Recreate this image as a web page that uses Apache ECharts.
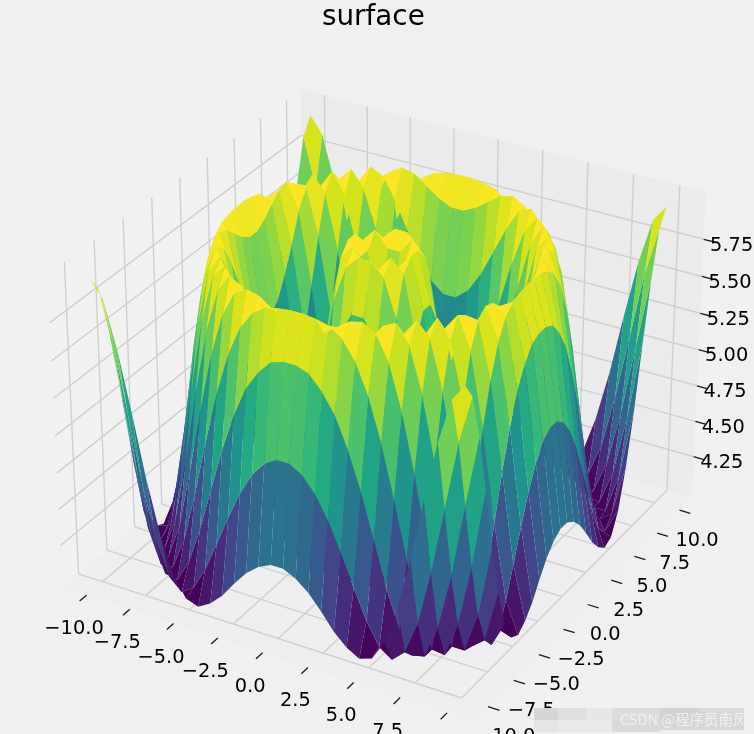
<!DOCTYPE html>
<html><head><meta charset="utf-8">
<style>html,body{margin:0;padding:0;background:#f0f0f0}#c{width:754px;height:734px}</style>
<script src="https://cdn.jsdelivr.net/npm/echarts@6/dist/echarts.min.js"></script>
</head><body><div id="c"></div>
<script>
const titleText = 'surface';
const gridCoords = [-10,-9.31,-8.62,-7.93,-7.24,-6.55,-5.86,-5.17,-4.48,-3.79,-3.10,-2.41,-1.72,-1.03,-0.34,0.34,1.03,1.72,2.41,3.10,3.79,4.48,5.17,5.86,6.55,7.24,7.93,8.62,9.31,10];
const zRows = [
[6.00,5.89,5.59,5.20,4.78,4.43,4.17,4.03,4.00,4.05,4.13,4.24,4.34,4.41,4.45,4.45,4.41,4.34,4.24,4.13,4.05,4.00,4.03,4.17,4.43,4.78,5.20,5.59,5.89,6.00],
[5.89,5.57,5.12,4.67,4.30,4.08,4.00,4.06,4.21,4.41,4.62,4.81,4.96,5.06,5.11,5.11,5.06,4.96,4.81,4.62,4.41,4.21,4.06,4.00,4.08,4.30,4.67,5.12,5.57,5.89],
[5.59,5.12,4.63,4.25,4.03,4.01,4.16,4.41,4.71,5.01,5.26,5.46,5.59,5.68,5.71,5.71,5.68,5.59,5.46,5.26,5.01,4.71,4.41,4.16,4.01,4.03,4.25,4.63,5.12,5.59],
[5.20,4.67,4.25,4.02,4.03,4.24,4.58,4.96,5.31,5.59,5.79,5.91,5.97,5.99,6.00,6.00,5.99,5.97,5.91,5.79,5.59,5.31,4.96,4.58,4.24,4.03,4.02,4.25,4.67,5.20],
[4.78,4.30,4.03,4.03,4.27,4.67,5.11,5.50,5.79,5.95,6.00,5.98,5.92,5.86,5.82,5.82,5.86,5.92,5.98,6.00,5.95,5.79,5.50,5.11,4.67,4.27,4.03,4.03,4.30,4.78],
[4.43,4.08,4.01,4.24,4.67,5.16,5.59,5.88,6.00,5.96,5.82,5.64,5.47,5.34,5.27,5.27,5.34,5.47,5.64,5.82,5.96,6.00,5.88,5.59,5.16,4.67,4.24,4.01,4.08,4.43],
[4.17,4.00,4.16,4.58,5.11,5.59,5.91,6.00,5.89,5.64,5.34,5.06,4.83,4.68,4.60,4.60,4.68,4.83,5.06,5.34,5.64,5.89,6.00,5.91,5.59,5.11,4.58,4.16,4.00,4.17],
[4.03,4.06,4.41,4.96,5.50,5.88,6.00,5.86,5.53,5.13,4.75,4.46,4.26,4.15,4.11,4.11,4.15,4.26,4.46,4.75,5.13,5.53,5.86,6.00,5.88,5.50,4.96,4.41,4.06,4.03],
[4.00,4.21,4.71,5.31,5.79,6.00,5.89,5.53,5.06,4.60,4.26,4.07,4.00,4.01,4.02,4.02,4.01,4.00,4.07,4.26,4.60,5.06,5.53,5.89,6.00,5.79,5.31,4.71,4.21,4.00],
[4.05,4.41,5.01,5.59,5.95,5.96,5.64,5.13,4.60,4.21,4.02,4.02,4.15,4.29,4.38,4.38,4.29,4.15,4.02,4.02,4.21,4.60,5.13,5.64,5.96,5.95,5.59,5.01,4.41,4.05],
[4.13,4.62,5.26,5.79,6.00,5.82,5.34,4.75,4.26,4.02,4.05,4.29,4.60,4.87,5.02,5.02,4.87,4.60,4.29,4.05,4.02,4.26,4.75,5.34,5.82,6.00,5.79,5.26,4.62,4.13],
[4.24,4.81,5.46,5.91,5.98,5.64,5.06,4.46,4.07,4.02,4.29,4.73,5.17,5.49,5.65,5.65,5.49,5.17,4.73,4.29,4.02,4.07,4.46,5.06,5.64,5.98,5.91,5.46,4.81,4.24],
[4.34,4.96,5.59,5.97,5.92,5.47,4.83,4.26,4.00,4.15,4.60,5.17,5.65,5.90,5.98,5.98,5.90,5.65,5.17,4.60,4.15,4.00,4.26,4.83,5.47,5.92,5.97,5.59,4.96,4.34],
[4.41,5.06,5.68,5.99,5.86,5.34,4.68,4.15,4.01,4.29,4.87,5.49,5.90,5.99,5.89,5.89,5.99,5.90,5.49,4.87,4.29,4.01,4.15,4.68,5.34,5.86,5.99,5.68,5.06,4.41],
[4.45,5.11,5.71,6.00,5.82,5.27,4.60,4.11,4.02,4.38,5.02,5.65,5.98,5.89,5.47,5.47,5.89,5.98,5.65,5.02,4.38,4.02,4.11,4.60,5.27,5.82,6.00,5.71,5.11,4.45],
[4.45,5.11,5.71,6.00,5.82,5.27,4.60,4.11,4.02,4.38,5.02,5.65,5.98,5.89,5.47,5.47,5.89,5.98,5.65,5.02,4.38,4.02,4.11,4.60,5.27,5.82,6.00,5.71,5.11,4.45],
[4.41,5.06,5.68,5.99,5.86,5.34,4.68,4.15,4.01,4.29,4.87,5.49,5.90,5.99,5.89,5.89,5.99,5.90,5.49,4.87,4.29,4.01,4.15,4.68,5.34,5.86,5.99,5.68,5.06,4.41],
[4.34,4.96,5.59,5.97,5.92,5.47,4.83,4.26,4.00,4.15,4.60,5.17,5.65,5.90,5.98,5.98,5.90,5.65,5.17,4.60,4.15,4.00,4.26,4.83,5.47,5.92,5.97,5.59,4.96,4.34],
[4.24,4.81,5.46,5.91,5.98,5.64,5.06,4.46,4.07,4.02,4.29,4.73,5.17,5.49,5.65,5.65,5.49,5.17,4.73,4.29,4.02,4.07,4.46,5.06,5.64,5.98,5.91,5.46,4.81,4.24],
[4.13,4.62,5.26,5.79,6.00,5.82,5.34,4.75,4.26,4.02,4.05,4.29,4.60,4.87,5.02,5.02,4.87,4.60,4.29,4.05,4.02,4.26,4.75,5.34,5.82,6.00,5.79,5.26,4.62,4.13],
[4.05,4.41,5.01,5.59,5.95,5.96,5.64,5.13,4.60,4.21,4.02,4.02,4.15,4.29,4.38,4.38,4.29,4.15,4.02,4.02,4.21,4.60,5.13,5.64,5.96,5.95,5.59,5.01,4.41,4.05],
[4.00,4.21,4.71,5.31,5.79,6.00,5.89,5.53,5.06,4.60,4.26,4.07,4.00,4.01,4.02,4.02,4.01,4.00,4.07,4.26,4.60,5.06,5.53,5.89,6.00,5.79,5.31,4.71,4.21,4.00],
[4.03,4.06,4.41,4.96,5.50,5.88,6.00,5.86,5.53,5.13,4.75,4.46,4.26,4.15,4.11,4.11,4.15,4.26,4.46,4.75,5.13,5.53,5.86,6.00,5.88,5.50,4.96,4.41,4.06,4.03],
[4.17,4.00,4.16,4.58,5.11,5.59,5.91,6.00,5.89,5.64,5.34,5.06,4.83,4.68,4.60,4.60,4.68,4.83,5.06,5.34,5.64,5.89,6.00,5.91,5.59,5.11,4.58,4.16,4.00,4.17],
[4.43,4.08,4.01,4.24,4.67,5.16,5.59,5.88,6.00,5.96,5.82,5.64,5.47,5.34,5.27,5.27,5.34,5.47,5.64,5.82,5.96,6.00,5.88,5.59,5.16,4.67,4.24,4.01,4.08,4.43],
[4.78,4.30,4.03,4.03,4.27,4.67,5.11,5.50,5.79,5.95,6.00,5.98,5.92,5.86,5.82,5.82,5.86,5.92,5.98,6.00,5.95,5.79,5.50,5.11,4.67,4.27,4.03,4.03,4.30,4.78],
[5.20,4.67,4.25,4.02,4.03,4.24,4.58,4.96,5.31,5.59,5.79,5.91,5.97,5.99,6.00,6.00,5.99,5.97,5.91,5.79,5.59,5.31,4.96,4.58,4.24,4.03,4.02,4.25,4.67,5.20],
[5.59,5.12,4.63,4.25,4.03,4.01,4.16,4.41,4.71,5.01,5.26,5.46,5.59,5.68,5.71,5.71,5.68,5.59,5.46,5.26,5.01,4.71,4.41,4.16,4.01,4.03,4.25,4.63,5.12,5.59],
[5.89,5.57,5.12,4.67,4.30,4.08,4.00,4.06,4.21,4.41,4.62,4.81,4.96,5.06,5.11,5.11,5.06,4.96,4.81,4.62,4.41,4.21,4.06,4.00,4.08,4.30,4.67,5.12,5.57,5.89],
[6.00,5.89,5.59,5.20,4.78,4.43,4.17,4.03,4.00,4.05,4.13,4.24,4.34,4.41,4.45,4.45,4.41,4.34,4.24,4.13,4.05,4.00,4.03,4.17,4.43,4.78,5.20,5.59,5.89,6.00]
];
const xyTicks = [-10,-7.5,-5,-2.5,0,2.5,5,7.5,10];
const xyTickLabels = ['\u221210.0','\u22127.5','\u22125.0','\u22122.5','0.0','2.5','5.0','7.5','10.0'];
const zTicks = [4.25,4.5,4.75,5,5.25,5.5,5.75];
const zTickLabels = ['4.25','4.50','4.75','5.00','5.25','5.50','5.75'];
const viridis = ['#440154','#481a6c','#472f7d','#414487','#39568c','#31688e','#2a788e','#23888e','#1f988b','#22a884','#35b779','#54c568','#7ad151','#a5db36','#d2e21b','#fde725'];

// view: elevation 30, azimuth -60, box 4:4:3, eye distance 10
const xyLim = 11.4, zLo = 3.958, zHi = 6.042, paneTop = 6.065;
const boxScale = 1.9057 / Math.sqrt(41), boxX = 4 * boxScale, boxZ = 3 * boxScale;
const U = [0.8660254, 0.5, 0], V = [-0.25, 0.4330127, 0.8660254], W = [0.4330127, -0.75, 0.5];
const eyeDist = 10, screenScale = 3955, cx = 383, cy = 392;
function project(x, y, z) {
  const q = [x / (2 * xyLim) * boxX, y / (2 * xyLim) * boxX, ((z - zLo) / (zHi - zLo) - 0.5) * boxZ];
  const dot = a => a[0] * q[0] + a[1] * q[1] + a[2] * q[2];
  const d = eyeDist - dot(W);
  return [cx + screenScale * dot(U) / d, cy - screenScale * dot(V) / d, d];
}
const n = gridCoords.length;
const cells = [];
for (let r = 0; r < n - 1; r++) for (let c = 0; c < n - 1; c++) {
  const pts = [[c, r], [c + 1, r], [c + 1, r + 1], [c, r + 1]].map(p => [gridCoords[p[0]], gridCoords[p[1]], zRows[p[1]][p[0]]]);
  const depth = pts.reduce((s, p) => s + project(p[0], p[1], p[2])[2], 0) / 4;
  const mean = pts.reduce((s, p) => s + p[2], 0) / 4;
  cells.push({ value: [].concat(...pts).concat([mean]), depth });
}
cells.sort((a, b) => b.depth - a.depth);
const means = cells.map(c => c.value[12]);
const vMin = Math.min(...means), vMax = Math.max(...means);

const lo = -xyLim, hi = xyLim;
const panes = [
  { value: [lo,lo,zLo, lo,hi,zLo, lo,hi,paneTop, lo,lo,paneTop], fill: '#f1f1f1' },
  { value: [lo,hi,zLo, hi,hi,zLo, hi,hi,paneTop, lo,hi,paneTop], fill: '#ebebeb' },
  { value: [lo,lo,zLo, hi,lo,zLo, hi,hi,zLo, lo,hi,zLo], fill: '#eeeeee' }
];
const gridSegs = [];
xyTicks.forEach(t => {
  gridSegs.push([t,-10,zLo, t,hi,zLo], [t,hi,zLo, t,hi,paneTop]);
  gridSegs.push([10,t,zLo, lo,t,zLo], [lo,t,zLo, lo,t,paneTop]);
});
zTicks.forEach(t => { gridSegs.push([lo,lo,t, lo,hi,t], [lo,hi,t, hi,hi,t]); });
const tickLen = 0.6;
const tickSegs = [];
xyTicks.forEach(t => {
  tickSegs.push([t,lo,zLo, t,lo - tickLen,zLo]);
  tickSegs.push([hi,t,zLo, hi + tickLen,t,zLo]);
});
zTicks.forEach(t => tickSegs.push([hi,hi,t, hi + tickLen,hi,t]));
const labelItems = [];
xyTicks.forEach((t, i) => {
  labelItems.push({ value: [t,lo,zLo,-12.5,34], name: xyTickLabels[i] });
  labelItems.push({ value: [hi,t,zLo,17.5,30.5], name: xyTickLabels[i] });
});
zTicks.forEach((t, i) => labelItems.push({ value: [hi,hi,t,28,6.5], name: zTickLabels[i] }));

const mosaic = [
  [534,708,24,12,'#d6d6d6'],[558,708,28,12,'#dfdfdf'],[586,708,26,12,'#e6e6e6'],[612,708,48,12,'#dcdcdc'],[660,708,40,12,'#d3d3d3'],[700,708,44,12,'#d9d9d9'],
  [534,720,24,12,'#e4e4e4'],[558,720,54,12,'#e9e9e9'],[612,720,48,12,'#dadada'],[660,720,84,10,'#d7d7d7']
];

function toPx(api, x, y, z) { const p = project(x, y, z); return api.coord([p[0], p[1]]); }
function polyPts(api) {
  const out = [];
  for (let i = 0; i < 4; i++) out.push(toPx(api, api.value(i * 3), api.value(i * 3 + 1), api.value(i * 3 + 2)));
  return out;
}
const segRender = (color, width) => (params, api) => {
  const a = toPx(api, api.value(0), api.value(1), api.value(2)), b = toPx(api, api.value(3), api.value(4), api.value(5));
  return { type: 'line', shape: { x1: a[0], y1: a[1], x2: b[0], y2: b[1] }, style: { stroke: color, lineWidth: width, fill: null } };
};
const dims = n => Array.from({ length: n }, (_, i) => 'd' + i);
const base = { type: 'custom', coordinateSystem: 'cartesian2d', silent: true, clip: false, animation: false };
const chart = echarts.init(document.getElementById('c'));
chart.setOption({
  backgroundColor: '#f0f0f0',
  animation: false,
  title: { text: titleText, left: 322, top: 4, padding: 0, textStyle: { fontFamily: 'DejaVu Sans', fontSize: 27.8, fontWeight: 'normal', color: '#000' } },
  grid: { left: 0, right: 0, top: 0, bottom: 0 },
  xAxis: { type: 'value', min: 0, max: 754, show: false },
  yAxis: { type: 'value', min: 0, max: 734, inverse: true, show: false },
  graphic: mosaic.map(m => ({ type: 'rect', z: 100, shape: { x: m[0], y: m[1], width: m[2], height: m[3] }, style: { fill: m[4] } })).concat([
    { type: 'text', z: 101, x: 620, y: 712, style: { text: 'CSDN @程序员南风', fontFamily: 'Noto Sans CJK SC', fontSize: 14.5, fill: '#efefef' } }
  ]),
  series: [
    Object.assign({}, base, { name: 'panes', z: 1, dimensions: dims(12), encode: { x: 0, y: 1 }, data: panes.map(p => p.value),
      renderItem: (params, api) => ({ type: 'polygon', shape: { points: polyPts(api) }, style: { fill: panes[params.dataIndex].fill } }) }),
    Object.assign({}, base, { name: 'grid', z: 2, dimensions: dims(6), encode: { x: 0, y: 1 }, data: gridSegs, renderItem: segRender('#cfcfcf', 1.4) }),
    Object.assign({}, base, { name: 'ticks', z: 3, dimensions: dims(6), encode: { x: 0, y: 1 }, data: tickSegs, renderItem: segRender('#1a1a1a', 1.3) }),
    Object.assign({}, base, { name: 'surface', z: 4, dimensions: dims(13), encode: { x: 0, y: 1 }, data: cells.map(c => c.value),
      renderItem: (params, api) => ({ type: 'polygon', shape: { points: polyPts(api) },
        style: { fill: echarts.color.lerp((api.value(12) - vMin) / (vMax - vMin), viridis) } }) }),
    Object.assign({}, base, { name: 'tickLabels', z: 5, dimensions: dims(5), encode: { x: 0, y: 1 }, data: labelItems.map(l => l.value),
      renderItem: (params, api) => {
        const p = toPx(api, api.value(0), api.value(1), api.value(2));
        return { type: 'text', style: { text: labelItems[params.dataIndex].name, x: p[0] + api.value(3), y: p[1] + api.value(4),
          fontFamily: 'DejaVu Sans', fontSize: 19.4, fill: '#000', align: 'center', verticalAlign: 'middle' } };
      } })
  ]
});
</script></body></html>
